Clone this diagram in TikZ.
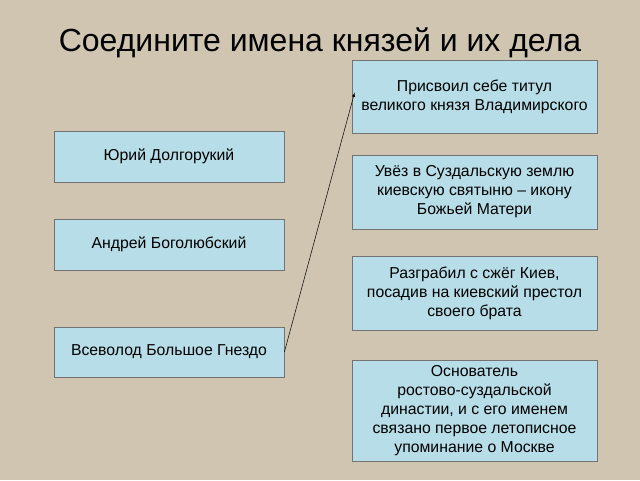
\documentclass[tikz,border=0pt]{standalone}
\usepackage{fontspec}
\setmainfont{Liberation Sans}
\begin{document}
\begin{tikzpicture}[x=1pt,y=-1pt,
  box/.style={draw=black!55,fill=boxc,line width=0.8pt,align=center,inner sep=0pt,font=\fontsize{15.8}{19}\selectfont},
  link/.style={-latex,line width=0.5pt}]
\definecolor{bgc}{RGB}{207,197,176}
\definecolor{boxc}{RGB}{183,222,232}
\fill[bgc] (0,0) rectangle (640,480);
\useasboundingbox (0,0) rectangle (640,480);
\node[font=\fontsize{32}{36}\selectfont] (title) at (320,43) {Соедините имена князей и их дела};
\node[box,minimum width=230,minimum height=51] (yuri) at (169,156.5) {Юрий Долгорукий};
\node[box,minimum width=230,minimum height=51] (andrey) at (169,244.5) {Андрей Боголюбский};
\node[box,minimum width=230,minimum height=50] (vsevolod) at (169,352) {Всеволод Большое Гнездо};
\node[box,minimum width=245,minimum height=73] (r1) at (474.5,96.5) {Присвоил себе титул\\великого князя Владимирского};
\node[box,minimum width=245,minimum height=74] (r2) at (474.5,192) {Увёз в Суздальскую землю\\киевскую святыню – икону\\Божьей Матери};
\node[box,minimum width=245,minimum height=74] (r3) at (474.5,293) {Разграбил с сжёг Киев,\\посадив на киевский престол\\своего брата};
\node[box,minimum width=245,minimum height=101] (r4) at (474.5,410.5) {Основатель\\ростово-суздальской\\династии, и с его именем\\связано первое летописное\\упоминание о Москве};
\draw[link] (vsevolod.east) -- ([xshift=3,yshift=4]r1.west);
\end{tikzpicture}
\end{document}
